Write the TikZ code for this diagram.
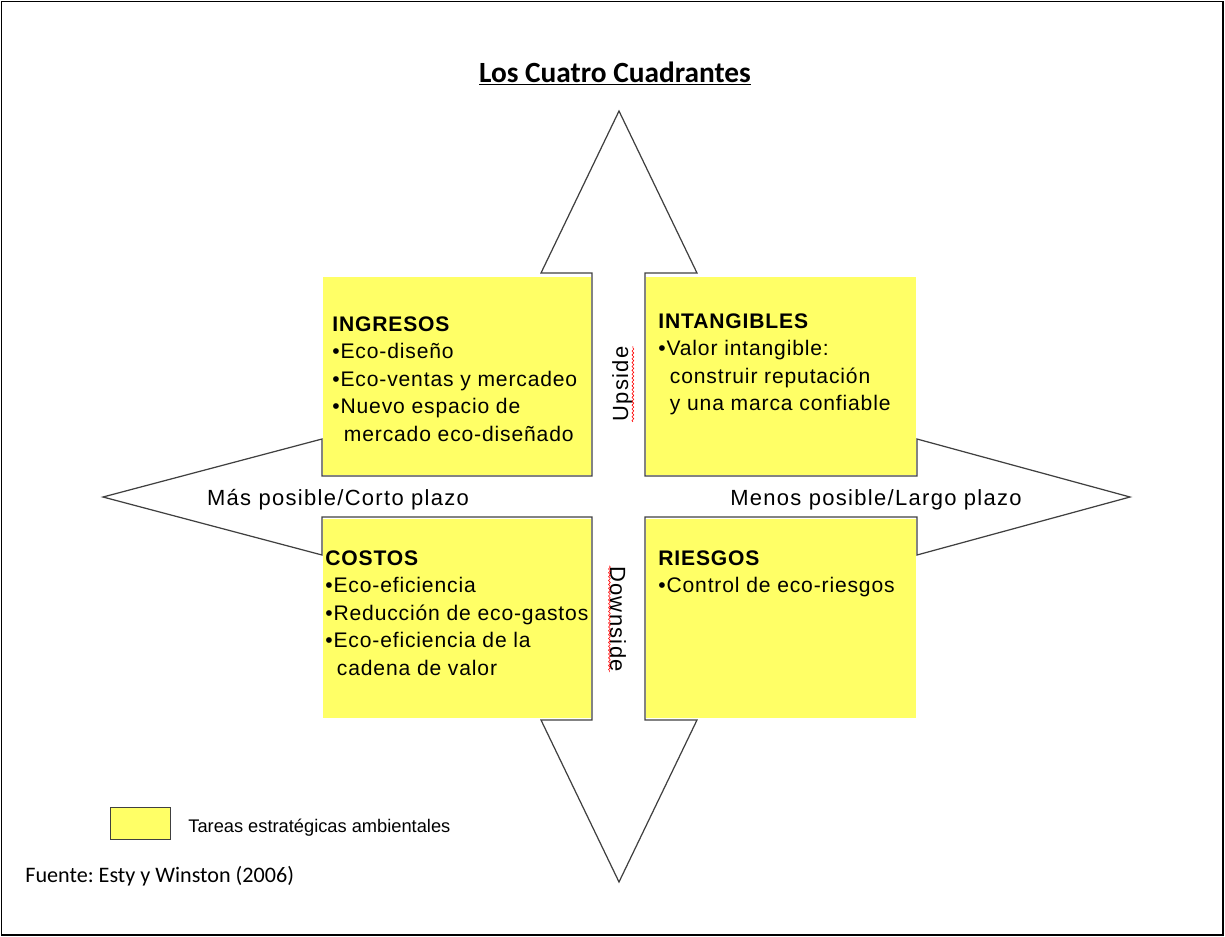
\documentclass[tikz,border=0pt]{standalone}
\usepackage{fontspec}
\setmainfont{Liberation Sans}
\newfontfamily\calibri{Carlito}
\usetikzlibrary{decorations.pathmorphing}
\frenchspacing

\definecolor{quadyellow}{RGB}{255,255,102}
\definecolor{crossgray}{RGB}{64,64,64}

\tikzset{
    quadtext/.style={anchor=north west, inner sep=0, align=left,
        font=\fontsize{12}{15.65}\selectfont\addfontfeature{LetterSpace=4}},
    axislabel/.style={anchor=base, inner sep=0,
        font=\fontsize{12.5}{14}\selectfont\addfontfeature{LetterSpace=6}},
    crossline/.style={draw=crossgray, line width=0.7pt, line join=miter},
    spellmark/.style={draw=red, line width=0.35pt, decorate,
        decoration={snake, amplitude=0.5pt, segment length=2.2pt}}
}

\begin{document}
\begin{tikzpicture}[x=0.02cm, y=-0.02cm]
    \useasboundingbox (0,0) rectangle (1225,937);
    \draw[line width=0.8pt] (1.5,1.5) rectangle (1223,935);

    \node[anchor=base, inner sep=0, font=\calibri\bfseries\fontsize{16.7}{20}\selectfont] (title) at (615,82) {\underline{Los Cuatro Cuadrantes}};

    % yellow quadrants
    \fill[quadyellow] (323,277) rectangle (591,475);
    \fill[quadyellow] (646,277) rectangle (916,475);
    \fill[quadyellow] (323,519) rectangle (591,718);
    \fill[quadyellow] (646,519) rectangle (916,718);

    % four-way arrow outline
    \draw[crossline] (619,111) -- (697,273) -- (645,273) -- (645,476) -- (917,476) -- (917,439)
        -- (1130,497) -- (917,555) -- (917,517) -- (645,517) -- (645,720) -- (697,720)
        -- (619,882) -- (541,720) -- (592,720) -- (592,517) -- (322,517) -- (322,555)
        -- (103,497) -- (322,439) -- (322,476) -- (592,476) -- (592,273) -- (541,273) -- cycle;

    \node[quadtext] (ingresos) at (332,316) {\textbf{INGRESOS}\\
        \textbullet Eco-diseño\\
        \textbullet Eco-ventas y mercadeo\\
        \textbullet Nuevo espacio de\\
        \hspace*{0.55em}mercado eco-diseñado};
    \node[quadtext] (intangibles) at (658,313) {\textbf{INTANGIBLES}\\
        \textbullet Valor intangible:\\
        \hspace*{0.55em}construir reputación\\
        \hspace*{0.55em}y una marca confiable};
    \node[quadtext] (costos) at (325,550) {\textbf{COSTOS}\\
        \textbullet Eco-eficiencia\\
        \textbullet Reducción de eco-gastos\\
        \textbullet Eco-eficiencia de la\\
        \hspace*{0.55em}cadena de valor};
    \node[quadtext] (riesgos) at (658,550) {\textbf{RIESGOS}\\
        \textbullet Control de eco-riesgos};

    \node[axislabel] (corto) at (338,505) {Más posible/Corto plazo};
    \node[axislabel] (largo) at (876,505) {Menos posible/Largo plazo};
    \node[axislabel, rotate=90] (upside) at (628,384) {Upside};
    \node[axislabel, rotate=-90] (downside) at (610,619) {Downside};
    \draw[spellmark] (upside.south west) -- (upside.south east);
    \draw[spellmark] (downside.south west) -- (downside.south east);

    % legend and source
    \node[draw=crossgray, fill=quadyellow, line width=0.6pt, minimum width=1.2cm, minimum height=0.64cm, inner sep=0] (legendbox) at (140.5,823.5) {};
    \node[anchor=base west, inner sep=0, font=\fontsize{10.4}{12}\selectfont] (legendtext) at (188,832) {Tareas estratégicas ambientales};
    \node[anchor=base west, inner sep=0, font=\calibri\fontsize{12.6}{15}\selectfont] (fuente) at (25,882) {Fuente: Esty y Winston (2006)};
\end{tikzpicture}
\end{document}
